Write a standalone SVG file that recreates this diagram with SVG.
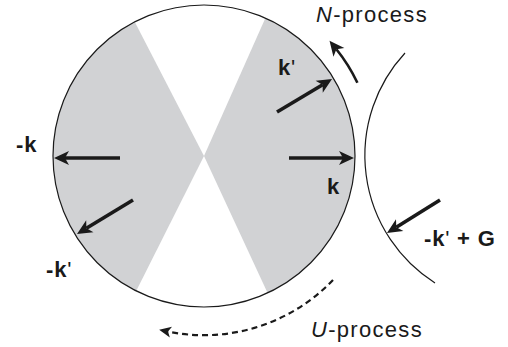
<svg xmlns="http://www.w3.org/2000/svg" width="508" height="347" viewBox="0 0 508 347">
<style>
.lbl{font-family:"Liberation Sans",Arial,sans-serif;font-size:22px;font-weight:bold;fill:#1a1a1a;letter-spacing:0.8px}
.pr{font-weight:normal}
.proc{font-family:"Liberation Sans",Arial,sans-serif;font-size:22px;fill:#1a1a1a;letter-spacing:1.3px}
.arr{fill:none;stroke:#1a1a1a;stroke-width:3.6;stroke-linecap:butt}
.thin{fill:none;stroke:#1a1a1a;stroke-width:1.2}
</style>
<defs>
<marker id="ah" markerUnits="userSpaceOnUse" markerWidth="30" markerHeight="30" viewBox="-10 -15 30 30" refX="0" refY="0" orient="auto" overflow="visible">
<path d="M11,0 L-4,-7 L0,0 L-4,7 Z" fill="#1a1a1a"/>
</marker>
<marker id="ahs" markerUnits="userSpaceOnUse" markerWidth="30" markerHeight="30" viewBox="-10 -15 30 30" refX="0" refY="0" orient="auto" overflow="visible">
<path d="M9,0 L-3,-5.5 L0,0 L-3,5.5 Z" fill="#1a1a1a"/>
</marker>
</defs>
<g id="zone">
<circle cx="204" cy="156" r="151" fill="#d1d2d4"/>
<path d="M204,156 L134.7,21.8 A151,151 0 0,1 265.4,18.1 Z" fill="#fff"/>
<path d="M204,156 L267.6,293 A151,151 0 0,1 136.2,290.9 Z" fill="#fff"/>
<circle cx="204" cy="156" r="151" class="thin"/>
</g>
<g id="zone2">
<path d="M405,53 A151,151 0 0,0 435,283" class="thin"/>
</g>
<g id="connectors">
<line x1="120" y1="158" x2="65" y2="158" class="arr" marker-end="url(#ah)"/>
<line x1="289" y1="158" x2="343" y2="158" class="arr" marker-end="url(#ah)"/>
<line x1="277" y1="112" x2="322.6" y2="84.7" class="arr" marker-end="url(#ah)"/>
<line x1="133" y1="200" x2="86.4" y2="228.3" class="arr" marker-end="url(#ah)"/>
<line x1="440" y1="200" x2="396.3" y2="227.2" class="arr" marker-end="url(#ah)"/>
<path d="M357.4,82.8 A170,170 0 0,0 336.4,49.3" fill="none" stroke="#1a1a1a" stroke-width="2.6" marker-end="url(#ah)"/>
<path d="M333,280 A179,179 0 0,1 168,331.6" fill="none" stroke="#1a1a1a" stroke-width="2.2" stroke-dasharray="6,4" marker-end="url(#ahs)"/>
</g>
<g id="labels">
<text class="lbl" x="16" y="152">-k</text>
<text class="lbl" x="327" y="194">k</text>
<text class="lbl" x="278" y="75">k<tspan class="pr">'</tspan></text>
<text class="lbl" x="46" y="277">-k<tspan class="pr">'</tspan></text>
<text class="lbl" x="424" y="246">-k<tspan class="pr">'</tspan> + G</text>
<text class="proc" x="316" y="22"><tspan font-style="italic">N</tspan>-process</text>
<text class="proc" x="311" y="337"><tspan font-style="italic">U</tspan>-process</text>
</g>
</svg>
